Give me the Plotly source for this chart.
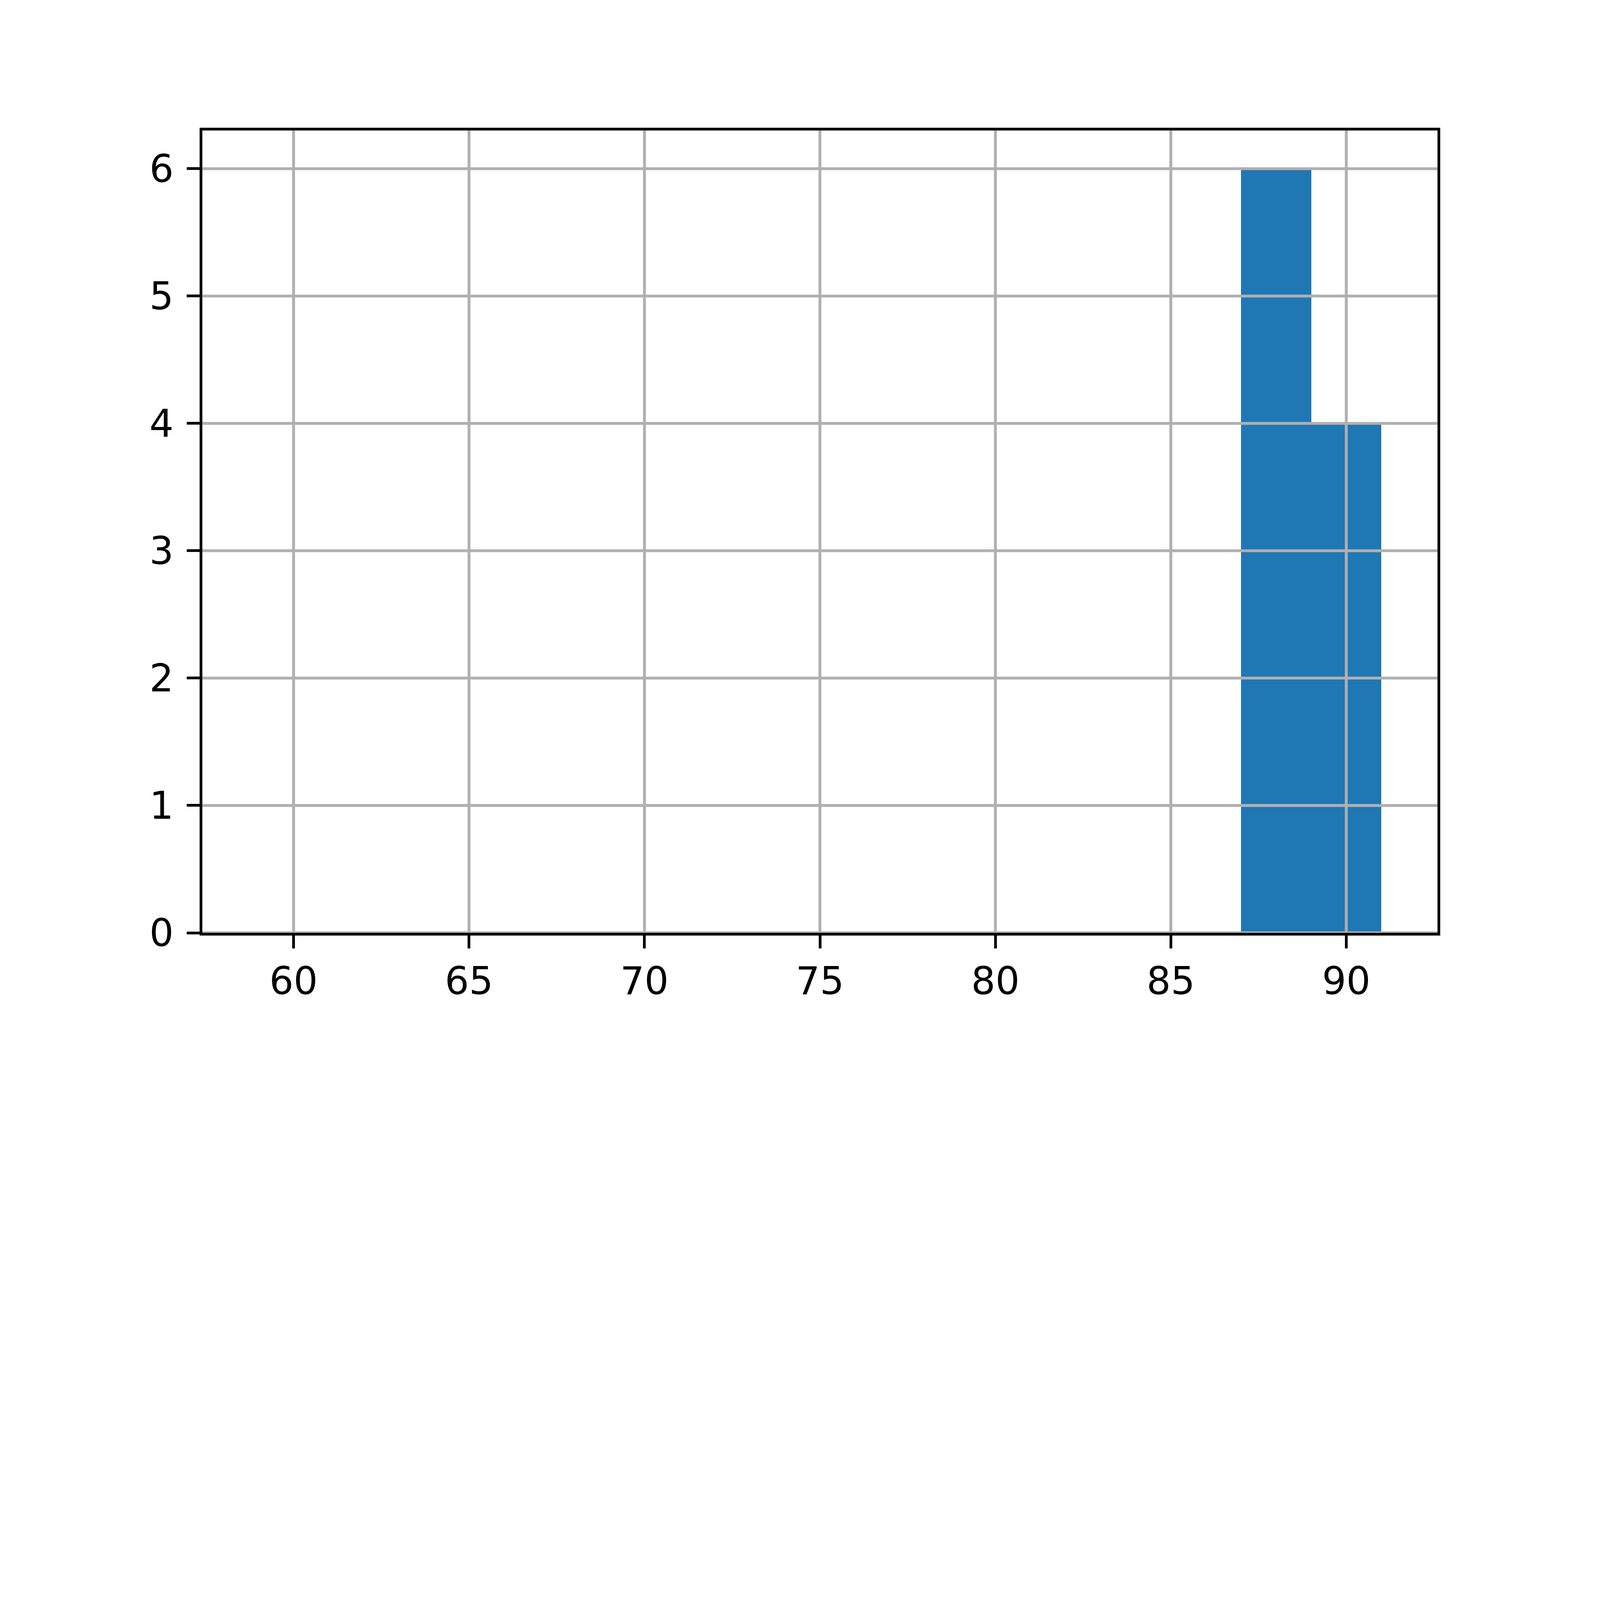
import plotly.graph_objects as go

# histogram bins (width 2, from 59 to 91)
bin_edges = [59, 61, 63, 65, 67, 69, 71, 73, 75, 77, 79, 81, 83, 85, 87, 89, 91]
counts = [0, 0, 0, 0, 0, 0, 0, 0, 0, 0, 0, 0, 0, 0, 6, 4]

x_ticks = [60, 65, 70, 75, 80, 85, 90]
y_ticks = [0, 1, 2, 3, 4, 5, 6]

# the browser window is only 4096 px wide, so shrink the 7200x4800 layout to fit
S = 4080 / 7200

centers = [(a + b) / 2 for a, b in zip(bin_edges[:-1], bin_edges[1:])]
widths = [b - a for a, b in zip(bin_edges[:-1], bin_edges[1:])]

span = bin_edges[-1] - bin_edges[0]
x_range = [bin_edges[0] - 0.05 * span, bin_edges[-1] + 0.05 * span]
y_range = [0, max(counts) * 1.05]

fig = go.Figure()
fig.add_trace(go.Bar(x=centers, y=counts, width=widths,
                     marker=dict(color="#1f77b4", line=dict(width=0))))

# matplotlib draws the grid on top of the bars, so use shapes above the traces
grid = dict(color="#b0b0b0", width=13 * S)
for v in x_ticks:
    fig.add_shape(type="line", xref="x", yref="paper", x0=v, x1=v, y0=0, y1=1,
                  line=grid, layer="above")
for v in y_ticks:
    fig.add_shape(type="line", xref="paper", yref="y", x0=0, x1=1, y0=v, y1=v,
                  line=grid, layer="above")

axis_style = dict(showgrid=False, zeroline=False, showline=True, linecolor="black",
                  linewidth=13 * S, mirror=True, ticks="outside", ticklen=58 * S,
                  tickwidth=13 * S, tickcolor="black", layer="above traces",
                  tickfont=dict(family="DejaVu Sans", size=172 * S, color="black"))

fig.update_layout(
    width=round(7200 * S), height=round(4800 * S),
    margin=dict(l=900 * S, r=720 * S, t=576 * S, b=600 * S),
    paper_bgcolor="white", plot_bgcolor="white",
    showlegend=False, bargap=0,
    xaxis=dict(range=x_range, tickmode="array", tickvals=x_ticks, **axis_style),
    yaxis=dict(range=y_range, tickmode="array", tickvals=y_ticks,
               ticklabelstandoff=round(24 * S), **axis_style),
)

fig.write_html("out.html")
